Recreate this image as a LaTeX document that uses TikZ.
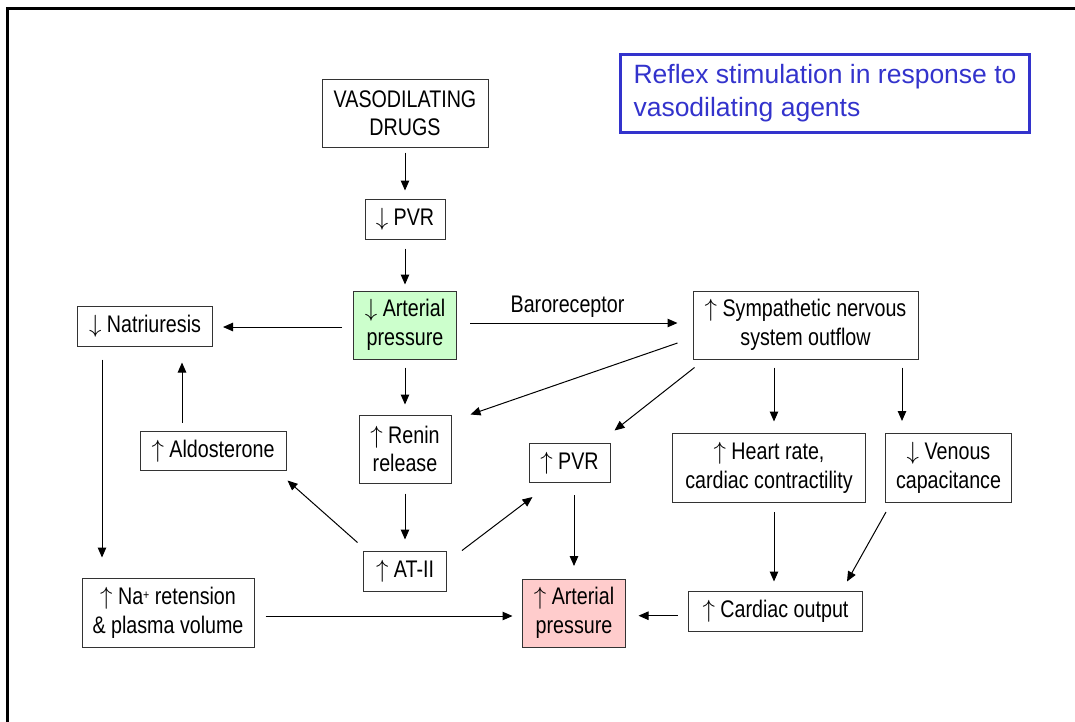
\documentclass[tikz,border=0pt]{standalone}
\usepackage{fontspec}
\setmainfont{Liberation Sans}
\newfontfamily\narrowfont[FakeStretch=0.82]{Liberation Sans}
\usetikzlibrary{arrows.meta}

\definecolor{dropgreen}{RGB}{204,255,204}
\definecolor{risepink}{RGB}{255,204,204}
\definecolor{noteblue}{RGB}{51,51,204}

\newcommand{\smallplus}{\raisebox{5pt}{\fontsize{13}{13}\selectfont +}}

\begin{document}
\begin{tikzpicture}[
    x=1pt, y=-1pt,
    box/.style={draw=black!80, line width=1pt, align=center, inner sep=0pt,
        font=\narrowfont\fontsize{24}{28.5}\selectfont},
    lbl/.style={inner sep=0pt, font=\narrowfont\fontsize{24}{28.5}\selectfont},
    flow/.style={line width=1pt, -{Triangle[length=10pt,width=8.5pt]}},
    note/.style={draw=noteblue, line width=3pt, text=noteblue, align=left,
        inner sep=0pt, font=\fontsize{26.5}{33}\selectfont}
]
\useasboundingbox (0,0) rectangle (1075,721);

% frame
\draw[line width=3pt] (7.5,730) -- (7.5,8.3) -- (1080,8.3);

% title box
\node[note, minimum width=409, minimum height=78] (title) at (825,93.5)
    {Reflex stimulation in response to\\vasodilating agents};

% Row 1: drug, falling resistance and pressure
\node[box, minimum width=166, minimum height=68] (drugs) at (405,113) {VASODILATING\\DRUGS};
\node[box, minimum width=80, minimum height=40] (pvrA) at (405,219) {$\downarrow$ PVR};
\node[box, fill=dropgreen, minimum width=103, minimum height=68] (artA) at (405,325) {$\downarrow$ Arterial\\pressure};
\node[box, minimum width=135, minimum height=40] (natri) at (145,326) {$\downarrow$ Natriuresis};
\node[box, minimum width=225, minimum height=68] (symp) at (805.5,325) {$\uparrow$ Sympathetic nervous\\system outflow};

% Row 2: reflex responses
\node[box, minimum width=92, minimum height=68] (renin) at (405,449) {$\uparrow$ Renin\\release};
\node[box, minimum width=146, minimum height=39] (aldo) at (213,451) {$\uparrow$ Aldosterone};
\node[box, minimum width=81, minimum height=39] (pvrB) at (569.5,463) {$\uparrow$ PVR};
\node[box, minimum width=193, minimum height=69] (heart) at (769,468) {$\uparrow$ Heart rate,\\cardiac contractility};
\node[box, minimum width=126, minimum height=69] (venous) at (948.5,468) {$\downarrow$ Venous\\capacitance};

% Row 3: rising pressure
\node[box, minimum width=83, minimum height=40] (at2) at (405,571) {$\uparrow$ AT-II};
\node[box, minimum width=172, minimum height=69] (na) at (168,613) {$\uparrow$ Na\smallplus{} retension\\\& plasma volume};
\node[box, fill=risepink, minimum width=103, minimum height=68] (artB) at (574,613) {$\uparrow$ Arterial\\pressure};
\node[box, minimum width=174, minimum height=40] (cardiac) at (775.5,611) {$\uparrow$ Cardiac output};

% straight connectors
\draw[flow] ([yshift=-5pt]drugs.south) -- ([yshift=8pt]pvrA.north);
\draw[flow] ([yshift=-9pt]pvrA.south) -- ([yshift=6pt]artA.north);
\draw[flow] ([xshift=-11pt,yshift=-2pt]artA.west) -- ([xshift=10pt,yshift=-1pt]natri.east);
\draw[flow] ([xshift=13pt,yshift=2pt]artA.east) -- ([xshift=-15pt,yshift=2pt]symp.west)
    node[lbl, pos=0.47, above=5pt] {Baroreceptor};
\draw[flow] ([yshift=-8pt]artA.south) -- ([yshift=10pt]renin.north);
\draw[flow] ([yshift=-10pt]renin.south) -- ([yshift=11pt]at2.north);
\draw[flow] ([xshift=-31pt,yshift=8.5pt]aldo.north) -- ([xshift=37pt,yshift=-16pt]natri.south);
\draw[flow] ([xshift=-43pt,yshift=-13pt]natri.south) -- ([xshift=-66pt,yshift=20.5pt]na.north);
\draw[flow] ([xshift=-31.5pt,yshift=-8pt]symp.south) -- ([xshift=5pt,yshift=11.5pt]heart.north);
\draw[flow] ([xshift=96.5pt,yshift=-8pt]symp.south) -- ([xshift=-46.5pt,yshift=12pt]venous.north);
\draw[flow] ([xshift=5pt,yshift=-9pt]heart.south) -- ([xshift=-1.5pt,yshift=9pt]cardiac.north);
\draw[flow] ([xshift=4.5pt,yshift=-12pt]pvrB.south) -- ([yshift=12.5pt]artB.north);
\draw[flow] ([xshift=11pt,yshift=-3pt]na.east) -- ([xshift=-9.5pt,yshift=-3pt]artB.west);
\draw[flow] ([xshift=-10.5pt,yshift=-4.7pt]cardiac.west) -- ([xshift=12.5pt,yshift=-2.7pt]artB.east);

% slanted connectors
\draw[flow] ([xshift=-15pt,yshift=-18pt]symp.west) -- ([xshift=19pt]renin.north east);
\draw[flow] ([xshift=2pt,yshift=-8pt]symp.south west) -- ([xshift=4pt,yshift=12.5pt]pvrB.north east);
\draw[flow] ([xshift=1pt,yshift=-9pt]venous.south west) -- ([xshift=-16pt,yshift=9pt]cardiac.north east);
\draw[flow] ([xshift=-5.5pt,yshift=8pt]at2.north west) -- ([xshift=1pt,yshift=-9.5pt]aldo.south east);
\draw[flow] ([xshift=15pt]at2.north east) -- ([xshift=4pt,yshift=-14pt]pvrB.south west);

\end{tikzpicture}
\end{document}
